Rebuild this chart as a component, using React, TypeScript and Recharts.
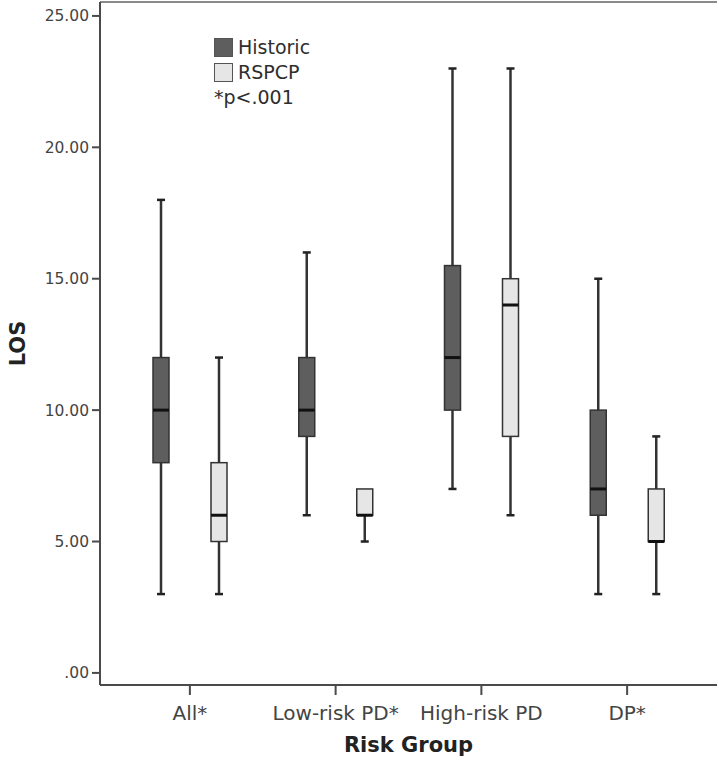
import React from "react";
import { BarChart, Bar, XAxis, YAxis, Legend, Label, ReferenceLine } from "recharts";

// Length of stay by risk group: box plot stats
const groups = ["All*", "Low-risk PD*", "High-risk PD", "DP*"];

const historicMin = [3, 6, 7, 3];
const historicQ1 = [8, 9, 10, 6];
const historicMedian = [10, 10, 12, 7];
const historicQ3 = [12, 12, 15.5, 10];
const historicMax = [18, 16, 23, 15];

const rspcpMin = [3, 5, 6, 3];
const rspcpQ1 = [5, 6, 9, 5];
const rspcpMedian = [6, 6, 14, 5];
const rspcpQ3 = [8, 7, 15, 7];
const rspcpMax = [12, 7, 23, 9];

const yTicks = [0, 5, 10, 15, 20, 25];
const yDomain = [-0.46, 25.53];

const HISTORIC_FILL = "#5e5e5e";
const RSPCP_FILL = "#e6e6e6";
const FONT = "'DejaVu Sans', sans-serif";

const rows = groups.map((g, i) => ({
  group: g,
  historic: [historicMin[i], historicMax[i]],
  historicBox: [historicQ1[i], historicMedian[i], historicQ3[i]],
  rspcp: [rspcpMin[i], rspcpMax[i]],
  rspcpBox: [rspcpQ1[i], rspcpMedian[i], rspcpQ3[i]],
}));

// the bar spans min..max; the box parts are placed inside it using the same px-per-unit
const boxShape = (rangeKey: string, boxKey: string, fill: string) => (p: any) => {
  const [lo, hi] = p.payload[rangeKey];
  const [q1, med, q3] = p.payload[boxKey];
  const top = Math.min(p.y, p.y + p.height);
  const bottom = Math.max(p.y, p.y + p.height);
  const ppu = (bottom - top) / (hi - lo);
  const yOf = (v: number) => bottom - (v - lo) * ppu;
  const cx = p.x + p.width / 2;
  const cap = 4;
  return (
    <g>
      <line x1={cx} x2={cx} y1={yOf(hi)} y2={yOf(lo)} stroke="#333" strokeWidth={2.5} />
      {hi > q3 && <line x1={cx - cap} x2={cx + cap} y1={yOf(hi)} y2={yOf(hi)} stroke="#222" strokeWidth={2.5} />}
      {lo < q1 && <line x1={cx - cap} x2={cx + cap} y1={yOf(lo)} y2={yOf(lo)} stroke="#222" strokeWidth={2.5} />}
      <rect
        x={p.x}
        y={yOf(q3)}
        width={p.width}
        height={yOf(q1) - yOf(q3)}
        fill={fill}
        stroke="#333"
        strokeWidth={1.5}
      />
      <line x1={p.x} x2={p.x + p.width} y1={yOf(med)} y2={yOf(med)} stroke="#111" strokeWidth={3} />
    </g>
  );
};

function LegendBox() {
  const item = (fill: string, text: string) => (
    <div style={{ display: "flex", alignItems: "center", height: 25 }}>
      <span
        style={{
          display: "inline-block",
          width: 17,
          height: 17,
          background: fill,
          border: "1.5px solid #555",
          marginRight: 5,
        }}
      />
      <span>{text}</span>
    </div>
  );
  return (
    <div style={{ fontFamily: FONT, fontSize: 19, color: "#2e2e2e", lineHeight: "25px" }}>
      {item(HISTORIC_FILL, "Historic")}
      {item(RSPCP_FILL, "RSPCP")}
      <div>*p&lt;.001</div>
    </div>
  );
}

export default function App() {
  return (
    <div style={{ position: "absolute", left: 0, top: 0, background: "#fff" }}>
      <BarChart
        width={719}
        height={765}
        data={rows}
        margin={{ top: 2, right: 2, bottom: 30, left: 0 }}
        barSize={16}
        barGap={42}
      >
        <XAxis
          dataKey="group"
          padding={{ left: 17, right: 17 }}
          height={50}
          tickSize={10}
          tickMargin={11}
          axisLine={{ stroke: "#4a4a4a", strokeWidth: 2 }}
          tickLine={{ stroke: "#4a4a4a", strokeWidth: 2 }}
          tick={{ fontSize: 20, fill: "#444", fontFamily: FONT }}
          interval={0}
        >
          <Label
            value="Risk Group"
            position="bottom"
            offset={2}
            style={{ fontSize: 21, fontWeight: "bold", fill: "#222", fontFamily: FONT }}
          />
        </XAxis>
        <YAxis
          type="number"
          domain={yDomain}
          ticks={yTicks}
          allowDataOverflow
          width={100}
          tickSize={8}
          tickMargin={3}
          tickFormatter={(v: number) => (v === 0 ? ".00" : v.toFixed(2))}
          axisLine={{ stroke: "#4a4a4a", strokeWidth: 2 }}
          tickLine={{ stroke: "#4a4a4a", strokeWidth: 2 }}
          tick={{ fontSize: 15.5, fill: "#444", fontFamily: FONT }}
        >
          <Label
            value="LOS"
            angle={-90}
            position="insideLeft"
            offset={18}
            style={{ fontSize: 21, fontWeight: "bold", fill: "#222", fontFamily: FONT, textAnchor: "middle" }}
          />
        </YAxis>
        <YAxis
          yAxisId="right"
          orientation="right"
          width={0}
          domain={[0, 1]}
          tick={false}
          tickLine={false}
          axisLine={{ stroke: "#8a8a8a", strokeWidth: 2 }}
        />
        <ReferenceLine y={yDomain[1]} stroke="#8a8a8a" strokeWidth={2} ifOverflow="visible" />
        <Legend
          layout="vertical"
          align="center"
          verticalAlign="middle"
          content={() => <LegendBox />}
          wrapperStyle={{ left: 214, top: 35, width: 130 }}
        />
        <Bar
          dataKey="historic"
          name="Historic"
          fill={HISTORIC_FILL}
          isAnimationActive={false}
          shape={boxShape("historic", "historicBox", HISTORIC_FILL)}
        />
        <Bar
          dataKey="rspcp"
          name="RSPCP"
          fill={RSPCP_FILL}
          isAnimationActive={false}
          shape={boxShape("rspcp", "rspcpBox", RSPCP_FILL)}
        />
      </BarChart>
    </div>
  );
}
